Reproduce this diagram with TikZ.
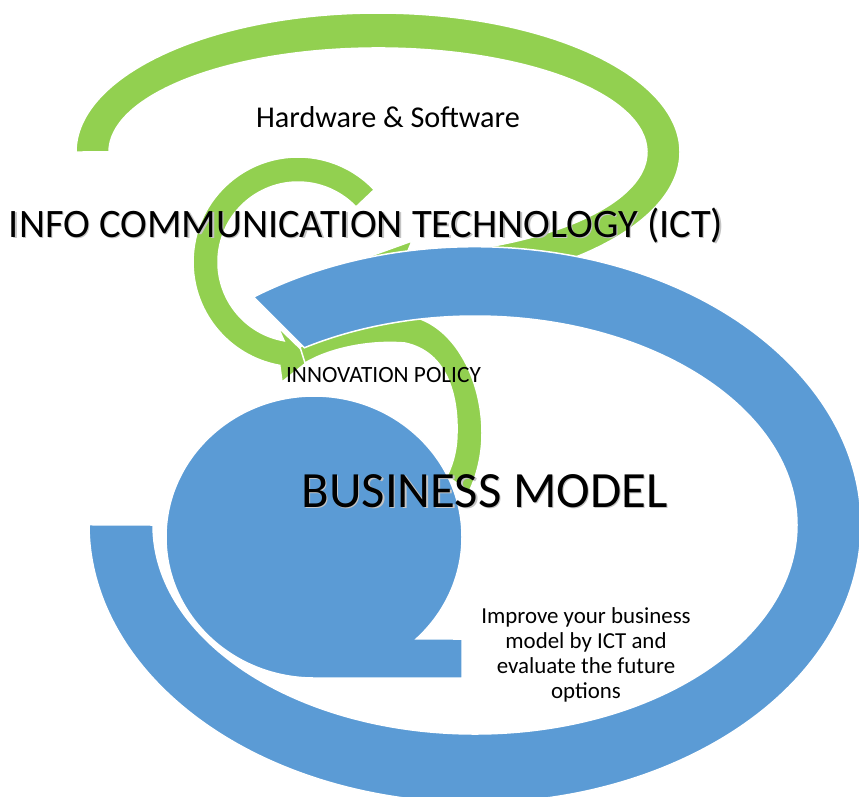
\documentclass[tikz,border=0pt]{standalone}
\usepackage{fontspec}
\setmainfont{Carlito}
\definecolor{grn}{HTML}{92D050}
\definecolor{blu}{HTML}{5B9BD5}
\definecolor{shd}{HTML}{C4C4C4}
\newcommand\shadowed[1]{\leavevmode\rlap{\raisebox{-1.4pt}[0pt][0pt]{\hspace{1.4pt}\textcolor{shd}{#1}}}#1}
\begin{document}
\begin{tikzpicture}[x=1pt,y=1pt,
  shp/.style={line width=1.5pt, draw=white, line join=miter},
  lbl/.style={anchor=base, inner sep=0pt, text=black}]
\useasboundingbox (0,0) rectangle (859,-796);
\clip (0,0) rectangle (859,-796);

% large green circular arrow (Hardware & Software)
\path[shp, fill=grn] (76,-152)
  arc[start angle=180, end angle=-84, x radius=302, y radius=139]
  -- (411,-307) -- (329,-271) -- (412,-241) -- (406.1,-255.4)
  arc[start angle=-84, end angle=180, x radius=269, y radius=104] -- cycle;

% medium green circular arrow
\path[shp, fill=grn] (374.2,-189.7)
  arc[start angle=43.5, end angle=260, radius=105]
  -- (282,-382) -- (311,-359) -- (278,-327) -- (284.1,-340.8)
  arc[start angle=260, end angle=43.5, radius=80] -- cycle;

% small green arc (innovation policy)
\path[shp, fill=grn] (300,-347)
  .. controls (340,-322) and (380,-314) .. (410,-316)
  .. controls (455,-325) and (482,-380) .. (482,-433)
  .. controls (482,-455) and (477,-475) .. (469,-492)
  -- (447,-476)
  .. controls (454,-462) and (457,-447) .. (457,-433)
  .. controls (458,-395) and (447,-352) .. (405,-343)
  .. controls (370,-340) and (330,-348) .. (305,-363) -- cycle;

% large blue block arc
\path[shp, fill=blu] (253.6,-297)
  arc[start angle=125, end angle=-180, x radius=386, y radius=278]
  -- (153,-525)
  arc[start angle=180, end angle=482, x radius=322, y radius=209] -- cycle;

% blue circle with tail
\path[shp, fill=blu] (314,-678)
  arc[start angle=270, end angle=-46.3, x radius=148, y radius=141]
  -- (462,-639) -- (462,-678) -- cycle;

% texts
\node[lbl, font=\fontsize{30.2}{36}\selectfont] (hw) at (388,-127) {Hardware \& Software};
\node[lbl, font=\fontsize{40.4}{48}\selectfont] (ict) at (366,-237) {\shadowed{INFO COMMUNICATION TECHNOLOGY (ICT)}};
\node[lbl, font=\fontsize{23.3}{28}\selectfont] (ip) at (383.5,-382) {INNOVATION POLICY};
\node[lbl, font=\fontsize{50.8}{60}\selectfont] (bm) at (484.5,-507) {\shadowed{BUSINESS MODEL}};
\node[inner sep=0pt, align=center, font=\fontsize{22.9}{25}\selectfont] (imp) at (586,-655)
  {Improve your business\\model by ICT and\\evaluate the future\\options};
\end{tikzpicture}
\end{document}
